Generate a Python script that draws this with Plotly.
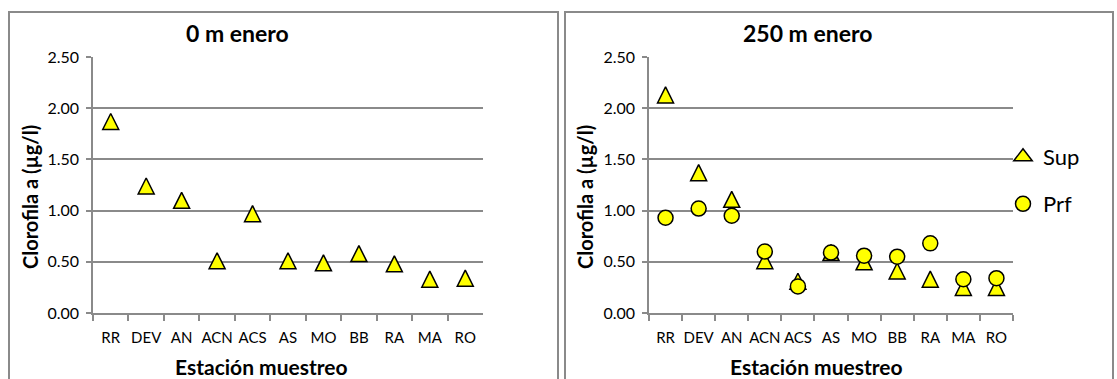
import plotly.graph_objects as go

W, H = 1117, 379

estaciones = ["RR", "DEV", "AN", "ACN", "ACS", "AS", "MO", "BB", "RA", "MA", "RO"]
sup_0m = [1.87, 1.24, 1.10, 0.51, 0.97, 0.51, 0.49, 0.58, 0.48, 0.33, 0.34]
sup_250m = [2.13, 1.37, 1.11, 0.51, 0.31, 0.59, 0.50, 0.41, 0.33, 0.25, 0.25]
prf_250m = [0.93, 1.02, 0.95, 0.60, 0.26, 0.59, 0.56, 0.55, 0.68, 0.33, 0.34]
y_ticks = [0.0, 0.5, 1.0, 1.5, 2.0, 2.5]

FONT = "Lato"
GRID = "#8a8a8a"
YEL = "#FFFF00"
TRI = 16

def px(x):
    return x / W

def py(y):
    return 1 - y / H

# upward triangle centred on the data point (arrow shape rotated, shifted by half its height)
tri_marker = dict(symbol="arrow-down", angle=180, standoff=TRI / 2, size=TRI,
                  color=YEL, line=dict(color="black", width=1.5))
circ_marker = dict(symbol="circle", size=15, color=YEL,
                   line=dict(color="black", width=1.5))

fig = go.Figure()
fig.add_trace(go.Scatter(x=estaciones, y=sup_0m, mode="markers", marker=tri_marker,
                         name="Sup", showlegend=False, xaxis="x", yaxis="y"))
fig.add_trace(go.Scatter(x=estaciones, y=sup_250m, mode="markers", marker=tri_marker,
                         name="Sup", showlegend=False, xaxis="x2", yaxis="y2"))
fig.add_trace(go.Scatter(x=estaciones, y=prf_250m, mode="markers", marker=circ_marker,
                         name="Prf", showlegend=False, xaxis="x2", yaxis="y2"))
# legend entries
fig.add_trace(go.Scatter(x=[None], y=[None], mode="markers", name="Sup", legend="legend",
                         marker=dict(symbol="triangle-up", size=16, color=YEL,
                                     line=dict(color="black", width=1.5)),
                         xaxis="x2", yaxis="y2", hoverinfo="skip"))
fig.add_trace(go.Scatter(x=[None], y=[None], mode="markers", name="Prf", legend="legend2",
                         marker=circ_marker, xaxis="x2", yaxis="y2", hoverinfo="skip"))

ydom = [py(313), py(57)]
xax = dict(type="category", range=[-0.5, len(estaciones) - 0.5], showgrid=False,
           showline=True, linecolor=GRID, linewidth=1.5, ticks="outside", tickson="boundaries",
           ticklen=6, tickcolor=GRID, tickwidth=1.5, zeroline=False, tickangle=0,
           automargin=False, categoryorder="array", categoryarray=estaciones,
           tickfont=dict(family=FONT, size=15, color="black"), ticklabelstandoff=10)
yax = dict(range=[0, 2.5], tickvals=y_ticks, tickformat=".2f", showgrid=True, gridcolor=GRID,
           gridwidth=1.5, showline=True, linecolor=GRID, linewidth=1.5, ticks="outside",
           ticklen=5, tickcolor=GRID, tickwidth=1.5, zeroline=False, automargin=False,
           tickfont=dict(family=FONT, size=16, color="black"), domain=ydom,
           ticklabelstandoff=4)

fig.update_layout(
    width=W, height=H, margin=dict(l=0, r=0, t=0, b=0, autoexpand=False),
    paper_bgcolor="white", plot_bgcolor="white",
    xaxis=dict(xax, domain=[px(93), px(483)], anchor="y"),
    yaxis=dict(yax, anchor="x"),
    xaxis2=dict(xax, domain=[px(649), px(1013)], anchor="y2"),
    yaxis2=dict(yax, anchor="x2"),
    legend=dict(x=px(1003), y=py(157), xanchor="left", yanchor="middle",
                font=dict(family=FONT, size=22, color="black"), bgcolor="rgba(0,0,0,0)"),
    legend2=dict(x=px(1003), y=py(204), xanchor="left", yanchor="middle",
                 font=dict(family=FONT, size=22, color="black"), bgcolor="rgba(0,0,0,0)"),
)

shapes = [
    dict(type="rect", xref="paper", yref="paper", x0=px(9), x1=px(558), y0=py(395), y1=py(12),
         line=dict(color=GRID, width=2), fillcolor="rgba(0,0,0,0)", layer="below"),
    dict(type="rect", xref="paper", yref="paper", x0=px(565), x1=px(1113), y0=py(395), y1=py(12),
         line=dict(color=GRID, width=2), fillcolor="rgba(0,0,0,0)", layer="below"),
]
fig.update_layout(shapes=shapes)

ann = []
for cx, title in [(238, "0 m enero"), (807, "250 m enero")]:
    ann.append(dict(text="<b>%s</b>" % title, x=px(cx), y=py(33), xref="paper", yref="paper",
                    showarrow=False, xanchor="center", yanchor="middle",
                    font=dict(family=FONT, size=23, color="black")))
for cx in [261, 816]:
    ann.append(dict(text="<b>Estación muestreo</b>", x=px(cx), y=py(366), xref="paper", yref="paper",
                    showarrow=False, xanchor="center", yanchor="middle",
                    font=dict(family=FONT, size=21, color="black")))
for cx in [30, 585]:
    ann.append(dict(text="<b>Clorofila a (µg/l)</b>", x=px(cx), y=py(197), xref="paper", yref="paper",
                    showarrow=False, xanchor="center", yanchor="middle", textangle=-90,
                    font=dict(family=FONT, size=20, color="black")))
fig.update_layout(annotations=ann)

fig.write_html("out.html")
